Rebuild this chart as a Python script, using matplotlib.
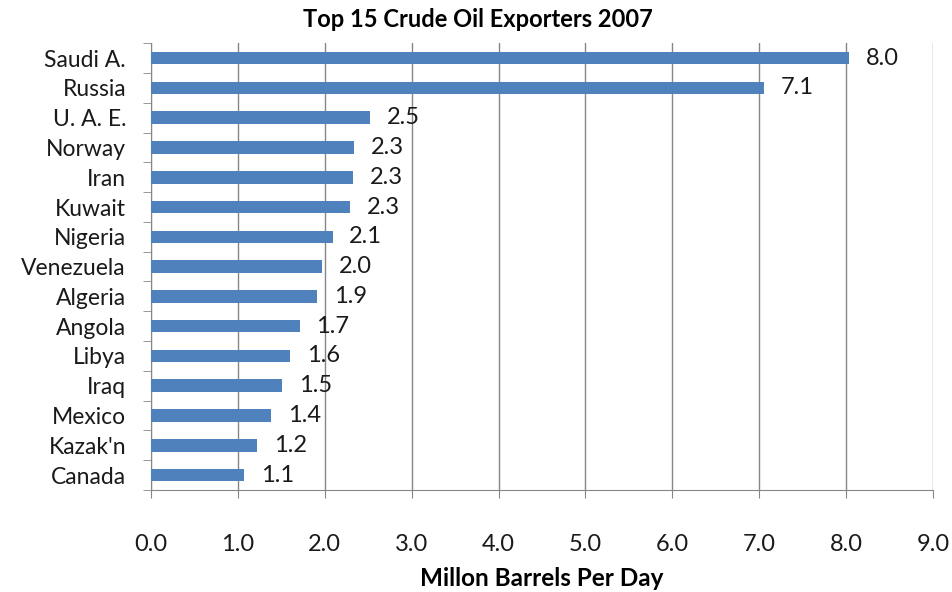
import matplotlib
matplotlib.use("Agg")
import matplotlib.pyplot as plt
import numpy as np

countries = ["Saudi A.", "Russia", "U. A. E.", "Norway", "Iran", "Kuwait", "Nigeria",
             "Venezuela", "Algeria", "Angola", "Libya", "Iraq", "Mexico", "Kazak'n", "Canada"]
values = [8.03, 7.06, 2.52, 2.34, 2.33, 2.29, 2.09, 1.97, 1.91, 1.71, 1.60, 1.51, 1.38, 1.22, 1.07]
xticks = [0, 1, 2, 3, 4, 5, 6, 7, 8, 9]

plt.rcParams['font.family'] = ['Lato', 'DejaVu Sans']

fig = plt.figure(figsize=(9.53, 5.92), dpi=100)
ax = fig.add_axes([0.1585, 0.1723, 0.979 - 0.1585, 0.927 - 0.1723])

y = np.arange(len(countries))
ax.barh(y, values, height=0.42, color="#4F81BD", zorder=3)
for yi, v in zip(y, values):
    ax.annotate(f"{v:.1f}", xy=(v, yi), xytext=(12, 0), textcoords="offset points",
                va="center", ha="left", fontsize=17, color="#1a1a1a")

ax.set_ylim(len(countries) - 0.5, -0.5)
ax.set_xlim(0, 9)
ax.set_xticks(xticks)
ax.set_xticklabels([f"{t:.1f}" for t in xticks], fontsize=17, color="#1a1a1a")
ax.set_yticks(y)
ax.set_yticklabels(countries, fontsize=16.5, color="#1a1a1a")
ax.set_yticks(np.arange(-0.5, len(countries), 1.0), minor=True)
ax.tick_params(axis="y", which="major", length=0, pad=18)
ax.tick_params(axis="y", which="minor", length=6, color="#868686", direction="out")
ax.tick_params(axis="x", which="major", length=6, color="#868686", direction="out", pad=26)

ax.grid(axis="x", color="#868686", linewidth=1, zorder=0)
for s in ["top", "right"]:
    ax.spines[s].set_visible(False)
for s in ["left", "bottom"]:
    ax.spines[s].set_color("#868686")

fig.suptitle("Top 15 Crude Oil Exporters 2007", x=0.5015, y=0.987, va="top",
             fontsize=17, fontweight="bold")
ax.set_xlabel("Millon Barrels Per Day", fontsize=17.5, fontweight="bold", labelpad=8)

fig.savefig("out.png", dpi=100)
